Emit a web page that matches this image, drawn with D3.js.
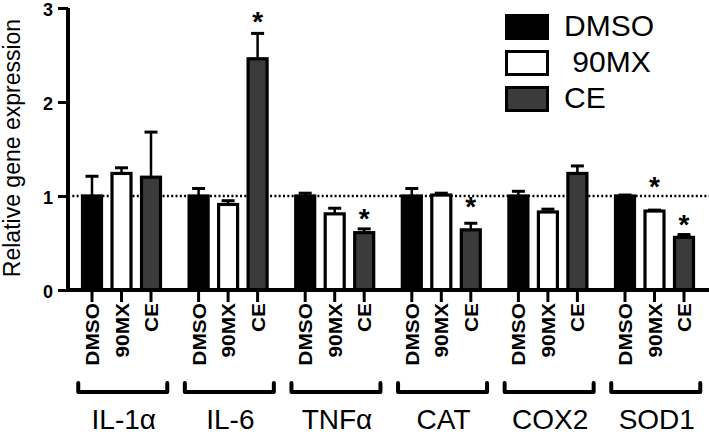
<!DOCTYPE html>
<html>
<head>
<meta charset="utf-8">
<script src="https://cdn.jsdelivr.net/npm/d3@7"></script>
<style>
  body { margin:0; background:#fff; }
  svg text { font-family:"Liberation Sans", Arial, sans-serif; }
</style>
</head>
<body>
<div id="chart"></div>
<script>
// gene groups and treatments
const genes      = ["IL-1α","IL-6","TNFα","CAT","COX2","SOD1"];
const treatments = ["DMSO","90MX","CE"];
const legendLabels = ["DMSO"," 90MX","CE"];

// bar heights (relative expression) and top of error bar
const dmso    = [1.00, 1.00, 1.00, 1.00, 1.00, 1.00];
const dmsoErr = [1.21, 1.08, 1.03, 1.08, 1.05, 1.01];
const mx90    = [1.24, 0.91, 0.81, 1.01, 0.83, 0.84];
const mx90Err = [1.30, 0.95, 0.87, 1.03, 0.86, 0.85];
const ce      = [1.20, 2.46, 0.61, 0.64, 1.24, 0.56];
const ceErr   = [1.68, 2.73, 0.65, 0.71, 1.32, 0.59];

// significance stars (gene, treatment, y in data units)
const starGene  = ["IL-6","TNFα","CAT","SOD1","SOD1"];
const starTreat = ["CE","CE","CE","90MX","CE"];
const starY     = [2.93, 0.83, 0.96, 1.17, 0.77];

const yTicks = [0,1,2,3];
const refLine = 1;

const colors = { "DMSO":"#000000", "90MX":"#ffffff", "CE":"#3b3b3b" };
const series = { "DMSO":[dmso,dmsoErr], "90MX":[mx90,mx90Err], "CE":[ce,ceErr] };

const W = 709, H = 435;
const svg = d3.select("#chart").append("svg").attr("width",W).attr("height",H);

const y  = d3.scaleLinear().domain([0,3]).range([290,8]);
const x0 = d3.scaleBand().domain(genes).range([77.25, 77.25+6*106.6]);
const x1 = d3.scaleBand().domain(treatments).range([0, 88.5]);
const barW = 19;
const cx = (g,t) => x0(g) + x1(t) + x1.bandwidth()/2;

// dotted reference line at 1
svg.append("line").attr("x1",68).attr("x2",W).attr("y1",y(refLine)).attr("y2",y(refLine))
    .attr("stroke","#000").attr("stroke-width",2.5).attr("stroke-dasharray","2,2.3");

// bars + error bars
const rows = [];
genes.forEach((g,i) => treatments.forEach(t => rows.push({g, t, v:series[t][0][i], e:series[t][1][i]})));

svg.selectAll(".err").data(rows).enter().append("line")
    .attr("x1",d=>cx(d.g,d.t)).attr("x2",d=>cx(d.g,d.t))
    .attr("y1",d=>y(d.v)).attr("y2",d=>y(d.e))
    .attr("stroke","#000").attr("stroke-width",2.5);
svg.selectAll(".cap").data(rows).enter().append("line")
    .attr("x1",d=>cx(d.g,d.t)-6.5).attr("x2",d=>cx(d.g,d.t)+6.5)
    .attr("y1",d=>y(d.e)).attr("y2",d=>y(d.e))
    .attr("stroke","#000").attr("stroke-width",3);
svg.selectAll(".bar").data(rows).enter().append("rect")
    .attr("x",d=>cx(d.g,d.t)-barW/2).attr("width",barW)
    .attr("y",d=>y(d.v)).attr("height",d=>y(0)-y(d.v))
    .attr("fill",d=>colors[d.t]).attr("stroke","#000").attr("stroke-width",3.2);

// stars
svg.selectAll(".star").data(starGene.map((g,i)=>({g, t:starTreat[i], v:starY[i]}))).enter().append("text")
    .attr("x",d=>cx(d.g,d.t)).attr("y",d=>y(d.v)+16)
    .attr("text-anchor","middle").style("font-size","28px").style("font-weight","bold").text("*");

// y axis
const yAxis = svg.append("g").attr("transform","translate(68,0)")
    .call(d3.axisLeft(y).tickValues(yTicks).tickSize(10).tickPadding(5).tickFormat(d3.format("d")));
yAxis.select(".domain").attr("d",`M0,${y(3)}V${y(0)+2}`).attr("stroke-width",4);
yAxis.selectAll(".tick line").attr("stroke-width",3);
yAxis.selectAll(".tick text").style("font-size","18px").style("font-weight","bold")
    .style("font-family","'Liberation Sans', Arial, sans-serif").attr("fill","#000").attr("dy","0.4em");

svg.append("text").attr("transform","rotate(-90)").attr("x",-148).attr("y",20)
    .attr("text-anchor","middle").style("font-size","23px").text("Relative gene expression");

// x axis line + ticks at each bar
svg.append("line").attr("x1",66).attr("x2",W).attr("y1",y(0)).attr("y2",y(0))
    .attr("stroke","#000").attr("stroke-width",4);
svg.selectAll(".xtick").data(rows).enter().append("line")
    .attr("x1",d=>cx(d.g,d.t)).attr("x2",d=>cx(d.g,d.t))
    .attr("y1",y(0)).attr("y2",y(0)+12)
    .attr("stroke","#000").attr("stroke-width",3);
svg.selectAll(".xlab").data(rows).enter().append("text")
    .attr("transform",d=>`translate(${cx(d.g,d.t)+7},303) rotate(-90) scale(1.1,1)`)
    .attr("text-anchor","end").style("font-size","19px").style("font-weight","bold").text(d=>d.t);

// group brackets and gene names
genes.forEach(g => {
    const a = x0(g) + 1, b = x0(g) + 90, yb = 392;
    svg.append("path").attr("d",`M${a},${yb-9}V${yb}H${b}V${yb-9}`)
        .attr("fill","none").attr("stroke","#000").attr("stroke-width",4)
        .attr("stroke-linecap","round").attr("stroke-linejoin","round");
    svg.append("text").attr("x",(a+b)/2+1).attr("y",429).attr("text-anchor","middle")
        .style("font-size","28px").text(g);
});

// legend
const leg = svg.append("g");
treatments.forEach((t,i) => {
    leg.append("rect").attr("x",506.5).attr("y",15.5+i*36).attr("width",41).attr("height",23)
        .attr("fill",colors[t]).attr("stroke","#000").attr("stroke-width",3);
    leg.append("text").attr("x",564).attr("y",36+i*36).style("font-size","30px")
        .style("white-space","pre").text(legendLabels[i]);
});
</script>
</body>
</html>
